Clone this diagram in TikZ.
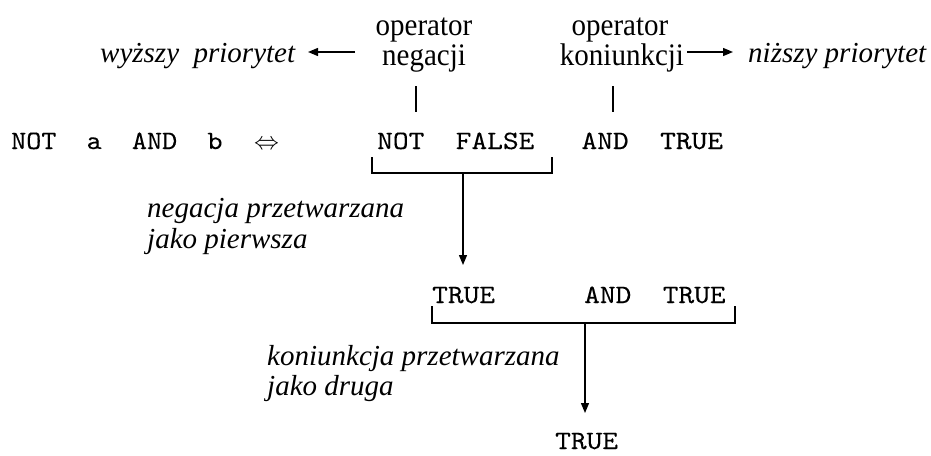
\documentclass[tikz,border=0pt]{standalone}
\usepackage{fontspec}
\setmainfont{Liberation Serif}
\newfontfamily\courA[FakeStretch=1.085,FakeBold=0.15]{lmmono10-regular.otf}
\newfontfamily\courB[FakeStretch=1.13,FakeBold=0.15]{lmmono10-regular.otf}
\usetikzlibrary{arrows.meta}
\newcommand\tallser[1]{\scalebox{1}[1.08]{#1}}
\begin{document}
\begin{tikzpicture}[x=1pt,y=-1pt,
  codeA/.style={font=\fontsize{26.5}{28}\selectfont\courA, inner sep=0pt, text depth=0pt, anchor=base west},
  code/.style={font=\fontsize{26.5}{28}\selectfont\courB, inner sep=0pt, text depth=0pt, anchor=base west},
  lbl/.style={font=\fontsize{29}{30}\selectfont, inner sep=0pt, anchor=base},
  note/.style={font=\fontsize{29}{30}\selectfont\itshape, inner sep=0pt, anchor=base west},
  conn/.style={line width=1.3pt},
  arr/.style={line width=1.3pt, -{Triangle[length=10pt,width=8pt]}}]
\useasboundingbox (0,0) rectangle (931,455);

% top labels
\node[lbl] (op1a) at (424,35) {\tallser{operator}};
\node[lbl] (op1b) at (424,65) {\tallser{negacji}};
\node[lbl] (op2a) at (620,35) {\tallser{operator}};
\node[lbl] (op2b) at (622,65) {\tallser{koniunkcji}};
\node[note] (hi) at (100,62) {wyższy\ \ priorytet};
\node[note] (lo) at (748,62) {niższy priorytet};

\coordinate (hiS) at (355,52);
\coordinate (hiE) at (308,52);
\coordinate (loS) at (687,52);
\coordinate (loE) at (733,52);
\draw[arr] (hiS) -- (hiE);
\draw[arr] (loS) -- (loE);

% vertical ticks
\coordinate (t1a) at (416,86);
\coordinate (t1b) at (416,112);
\coordinate (t2a) at (613,86);
\coordinate (t2b) at (613,112);
\draw[conn] (t1a) -- (t1b);
\draw[conn] (t2a) -- (t2b);

% code line 1
\node[codeA] (expr) at (11,149) {NOT\ \ a\ \ AND\ \ b};
\node[font=\fontsize{28}{28}\selectfont, inner sep=0pt, anchor=base west] (eqv) at (254,149) {$\Leftrightarrow$};
\node[code] (l2) at (377,149) {NOT\ \ FALSE\ \ \ AND\ \ TRUE};

% bracket 1
\coordinate (b1l) at (372,157);
\coordinate (b1r) at (552,157);
\coordinate (b1m) at (463,173);
\coordinate (b1t) at (463,265);
\draw[conn] (b1l) -- (372,173) -- (552,173) -- (b1r);
\draw[arr] (b1m) -- (b1t);

\node[note] (n1a) at (147,217) {negacja przetwarzana};
\node[note] (n1b) at (147,248) {jako pierwsza};

% code line 3
\node[code] (l3a) at (432,303) {TRUE};
\node[code] (l3b) at (584,303) {AND\ \ TRUE};

% bracket 2
\coordinate (b2l) at (432,306);
\coordinate (b2r) at (735,306);
\coordinate (b2m) at (585,323);
\coordinate (b2t) at (585,413);
\draw[conn] (b2l) -- (432,323) -- (735,323) -- (b2r);
\draw[arr] (b2m) -- (b2t);

\node[note] (n2a) at (267,365) {koniunkcja przetwarzana};
\node[note] (n2b) at (267,395) {jako druga};

\node[code] (res) at (555,449) {TRUE};
\end{tikzpicture}
\end{document}
